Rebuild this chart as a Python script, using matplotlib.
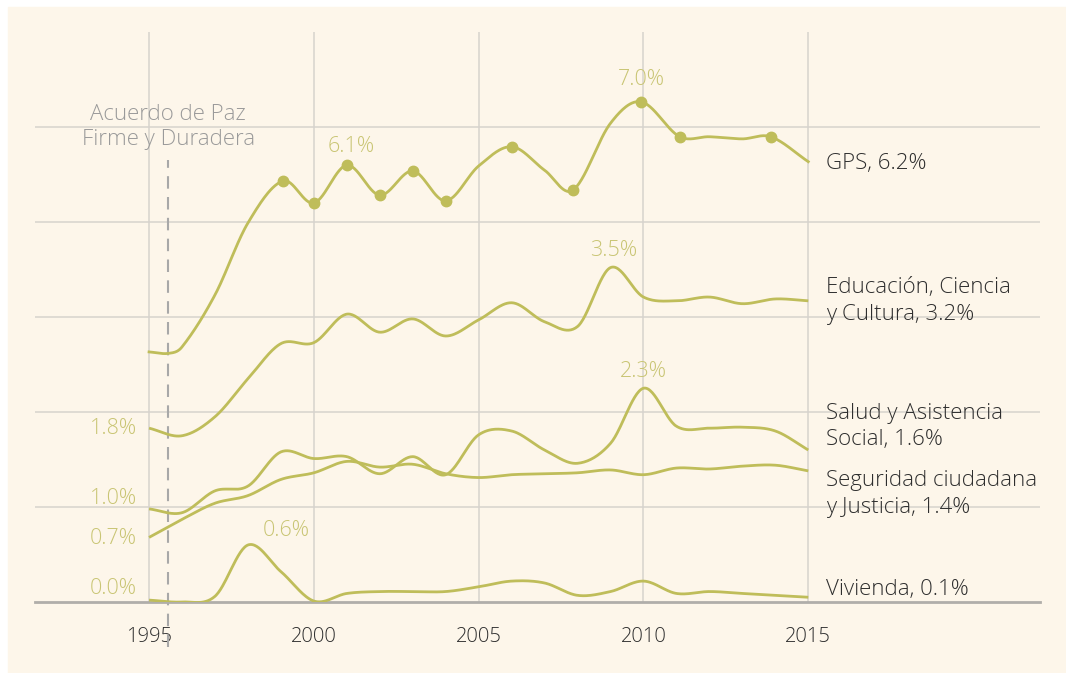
import numpy as np
import matplotlib
matplotlib.use('Agg')
import matplotlib.pyplot as plt
from matplotlib.patches import Rectangle

# ---------------- data ----------------
years = [1995, 1996, 1997, 1998, 1999, 2000, 2001, 2002, 2003, 2004, 2005,
         2006, 2007, 2008, 2009, 2010, 2011, 2012, 2013, 2014, 2015]

# GPS (gasto público social, % PIB) - own scale (0-8)
gps_years = [1995, 1995.6, 1996, 1997, 1998, 1999.07, 2000, 2001, 2002, 2003,
             2004, 2005, 2006, 2007, 2007.86, 2009, 2009.93, 2011.1, 2012,
             2013, 2013.86, 2015]
gps_values = [3.51, 3.49, 3.58, 4.31, 5.32, 5.91, 5.60, 6.13, 5.71, 6.05,
              5.63, 6.12, 6.39, 6.06, 5.78, 6.72, 7.02, 6.53, 6.53,
              6.50, 6.53, 6.18]
gps_dot_years = [1999.07, 2000, 2001, 2002, 2003, 2004, 2006, 2007.86,
                 2009.93, 2011.1, 2013.86]
gps_dot_values = [5.91, 5.60, 6.13, 5.71, 6.05, 5.63, 6.39, 5.78,
                  7.02, 6.53, 6.53]

educacion = [1.83, 1.75, 1.95, 2.35, 2.72, 2.73, 3.03, 2.84, 2.98, 2.80, 2.97,
             3.15, 2.95, 2.90, 3.52, 3.21, 3.17, 3.21, 3.14, 3.19, 3.17]
salud = [0.98, 0.94, 1.17, 1.22, 1.58, 1.51, 1.53, 1.35, 1.53, 1.34, 1.76,
         1.80, 1.60, 1.46, 1.67, 2.25, 1.85, 1.83, 1.84, 1.80, 1.60]
seguridad = [0.68, 0.87, 1.04, 1.12, 1.29, 1.36, 1.48, 1.42, 1.45, 1.35, 1.31,
             1.34, 1.35, 1.36, 1.39, 1.34, 1.41, 1.40, 1.43, 1.44, 1.38]
vivienda = [0.02, 0.00, 0.06, 0.60, 0.32, 0.01, 0.09, 0.11, 0.11, 0.11, 0.16,
            0.22, 0.20, 0.07, 0.11, 0.22, 0.09, 0.11, 0.09, 0.07, 0.05]

end_labels = {
    'gps': 'GPS, 6.2%',
    'edu': 'Educación, Ciencia\ny Cultura, 3.2%',
    'salud': 'Salud y Asistencia\nSocial, 1.6%',
    'seg': 'Seguridad ciudadana\ny Justicia, 1.4%',
    'viv': 'Vivienda, 0.1%',
}
x_ticks = [1995, 2000, 2005, 2010, 2015]
peace_year = 1995.58
peace_label = 'Acuerdo de Paz\nFirme y Duradera'

# ---------------- style ----------------
CREAM = '#fdf6ea'
LINE = '#bfbd5a'
ANNOT = '#c9c574'
TEXT = '#2e2e2e'
GRID = '#d6d3cd'

plt.rcParams['font.family'] = ['Open Sans', 'DejaVu Sans']
plt.rcParams['font.weight'] = 'light'


def smooth(x, y, n=30):
    """Cubic Hermite (Catmull-Rom style) curve through the data points."""
    x = np.asarray(x, float)
    y = np.asarray(y, float)
    m = np.empty_like(y)
    m[1:-1] = (y[2:] - y[:-2]) / (x[2:] - x[:-2])
    m[0] = (y[1] - y[0]) / (x[1] - x[0])
    m[-1] = (y[-1] - y[-2]) / (x[-1] - x[-2])
    xs, ys = [], []
    t = np.linspace(0, 1, n, endpoint=False)
    h00 = 2 * t**3 - 3 * t**2 + 1
    h10 = t**3 - 2 * t**2 + t
    h01 = -2 * t**3 + 3 * t**2
    h11 = t**3 - t**2
    for i in range(len(x) - 1):
        h = x[i + 1] - x[i]
        xs.append(x[i] + t * h)
        ys.append(h00 * y[i] + h10 * h * m[i] + h01 * y[i + 1] + h11 * h * m[i + 1])
    xs.append([x[-1]])
    ys.append([y[-1]])
    return np.concatenate(xs), np.concatenate(ys)


W, H = 1066, 673
fig = plt.figure(figsize=(W / 100, H / 100), dpi=100, facecolor='white')
fig.patches.append(Rectangle((8 / W, 0), 1 - 8 / W, 1 - 7 / H,
                             transform=fig.transFigure, color=CREAM, zorder=-10))

ax = fig.add_axes([35 / W, 71 / H, 1005 / W, 570 / H])
ax.set_facecolor('none')
ax.set_xlim(1991.54, 2022.03)
ax.set_ylim(0, 6)
ax.set_yticks([1, 2, 3, 4, 5])
ax.set_xticks(x_ticks)
ax.set_xticklabels([str(v) for v in x_ticks], fontsize=14.5, color=TEXT)
ax.tick_params(axis='both', length=0, labelleft=False, pad=18)
ax.grid(True, color=GRID, linewidth=1.1, zorder=0)
for s in ['top', 'left', 'right']:
    ax.spines[s].set_visible(False)
ax.spines['bottom'].set_color('#b0aeaa')
ax.spines['bottom'].set_linewidth(2)
ax.set_axisbelow(True)

ax2 = ax.twinx()
ax2.set_ylim(0, 8)
ax2.set_axis_off()

# sector lines
for vals in [educacion, salud, seguridad, vivienda]:
    sx, sy = smooth(years, vals)
    ax.plot(sx, sy, color=LINE, lw=2.0, solid_capstyle='butt', zorder=3)

# GPS line on its own scale
gx, gy = smooth(gps_years, gps_values)
ax2.plot(gx, gy, color=LINE, lw=2.0, zorder=3)
ax2.plot(gps_dot_years, gps_dot_values, 'o', color=LINE, ms=7.5, zorder=4)

# peace agreement marker
ax.axvline(peace_year, ymin=-0.079, ymax=0.775, color='#a8a8a8', lw=1.5,
           dashes=(6, 4), clip_on=False, zorder=2)
ax.text(peace_year, 5.0, peace_label, ha='center', va='center', fontsize=16,
        color='#9a9a9a', linespacing=1.3)

# value annotations
fs_ann = 15.5
def ann(axis, x, y, txt, dx, dy, ha='center'):
    axis.annotate(txt, (x, y), xytext=(dx, dy), textcoords='offset pixels',
                  ha=ha, va='center', fontsize=fs_ann, color=ANNOT)

ann(ax2, gps_dot_years[2], gps_dot_values[2], '6.1%', 4, 19)
ann(ax2, gps_dot_years[8], gps_dot_values[8], '7.0%', 0, 22)
ann(ax, years[14], educacion[14], '3.5%', 3, 17)
ann(ax, years[15], salud[15], '2.3%', 0, 17)
ann(ax, years[3], vivienda[3], '0.6%', 38, 15)
ann(ax, years[0], educacion[0], '1.8%', -12, 0, ha='right')
ann(ax, years[0], salud[0], '1.0%', -12, 10, ha='right')
ann(ax, years[0], seguridad[0], '0.7%', -12, -1, ha='right')
ann(ax, years[0], vivienda[0], '0.0%', -12, 12, ha='right')

# end labels
def endlab(axis, y, txt, dy):
    axis.annotate(txt, (years[-1], y), xytext=(18, dy), textcoords='offset pixels',
                  ha='left', va='center', fontsize=16, color=TEXT, linespacing=1.35)

endlab(ax2, gps_values[-1], end_labels['gps'], -2)
endlab(ax, educacion[-1], end_labels['edu'], 0)
endlab(ax, salud[-1], end_labels['salud'], 23.5)
endlab(ax, seguridad[-1], end_labels['seg'], -23)
endlab(ax, vivienda[-1], end_labels['viv'], 8)

fig.savefig('out.png', dpi=100, facecolor='white')
